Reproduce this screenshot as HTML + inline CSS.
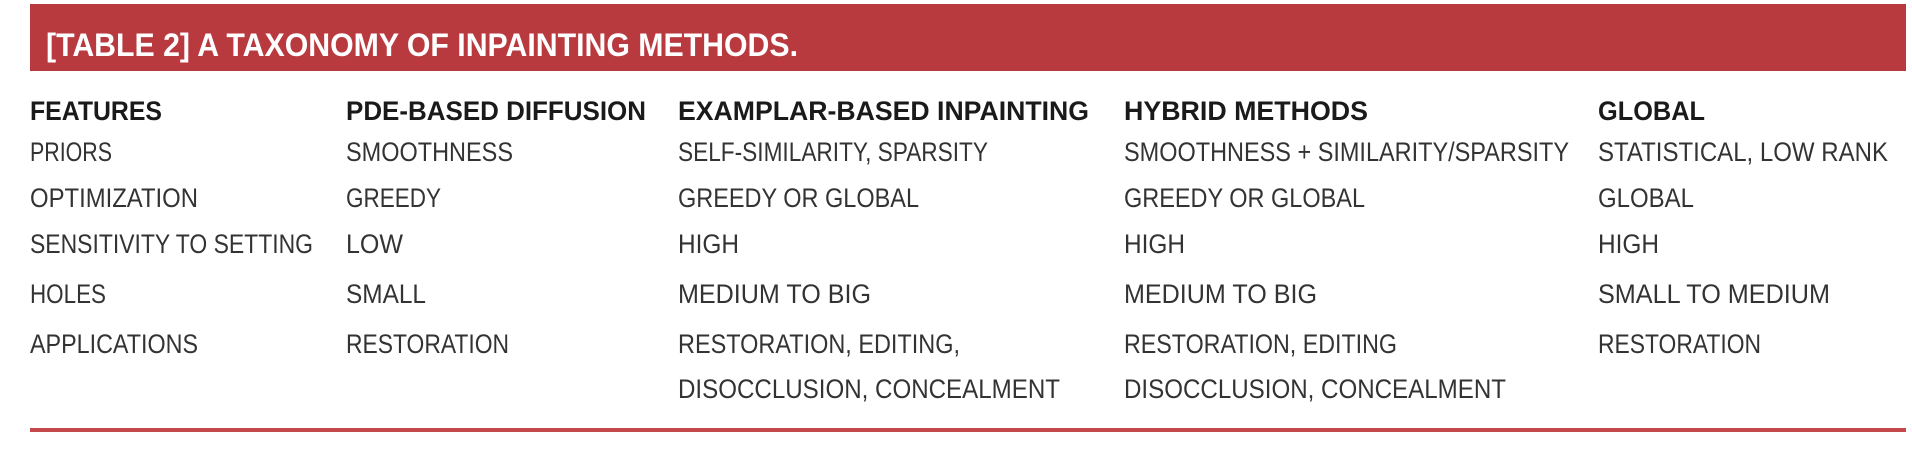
<!DOCTYPE html>
<html><head><meta charset="utf-8"><style>
html,body{margin:0;padding:0;background:#fff;width:1912px;height:450px;overflow:hidden}
svg text{font-family:"Liberation Sans Narrow","Liberation Sans",sans-serif}
</style></head><body>
<svg width="1912" height="450" viewBox="0 0 1912 450">
<rect x="30" y="4" width="1876" height="67" fill="#b83a3f"/>
<text x="46" y="56" fill="#fff" font-size="32" font-weight="bold" textLength="752" lengthAdjust="spacingAndGlyphs">[TABLE 2]  A TAXONOMY OF INPAINTING METHODS.</text>
<g fill="#1a1a1a" font-size="27" font-weight="bold">
<text x="30" y="120" textLength="132" lengthAdjust="spacingAndGlyphs">FEATURES</text>
<text x="346" y="120" textLength="300" lengthAdjust="spacingAndGlyphs">PDE-BASED DIFFUSION</text>
<text x="678" y="120" textLength="411" lengthAdjust="spacingAndGlyphs">EXAMPLAR-BASED INPAINTING</text>
<text x="1124" y="120" textLength="244" lengthAdjust="spacingAndGlyphs">HYBRID METHODS</text>
<text x="1598" y="120" textLength="107" lengthAdjust="spacingAndGlyphs">GLOBAL</text>
</g>
<g fill="#333" font-size="27">
<text x="30" y="161" textLength="82" lengthAdjust="spacingAndGlyphs">PRIORS</text>
<text x="346" y="161" textLength="167" lengthAdjust="spacingAndGlyphs">SMOOTHNESS</text>
<text x="678" y="161" textLength="310" lengthAdjust="spacingAndGlyphs">SELF-SIMILARITY, SPARSITY</text>
<text x="1124" y="161" textLength="445" lengthAdjust="spacingAndGlyphs">SMOOTHNESS + SIMILARITY/SPARSITY</text>
<text x="1598" y="161" textLength="290" lengthAdjust="spacingAndGlyphs">STATISTICAL, LOW RANK</text>

<text x="30" y="207" textLength="168" lengthAdjust="spacingAndGlyphs">OPTIMIZATION</text>
<text x="346" y="207" textLength="95" lengthAdjust="spacingAndGlyphs">GREEDY</text>
<text x="678" y="207" textLength="241" lengthAdjust="spacingAndGlyphs">GREEDY OR GLOBAL</text>
<text x="1124" y="207" textLength="241" lengthAdjust="spacingAndGlyphs">GREEDY OR GLOBAL</text>
<text x="1598" y="207" textLength="96" lengthAdjust="spacingAndGlyphs">GLOBAL</text>

<text x="30" y="253" textLength="283" lengthAdjust="spacingAndGlyphs">SENSITIVITY TO SETTING</text>
<text x="346" y="253" textLength="57" lengthAdjust="spacingAndGlyphs">LOW</text>
<text x="678" y="253" textLength="61" lengthAdjust="spacingAndGlyphs">HIGH</text>
<text x="1124" y="253" textLength="61" lengthAdjust="spacingAndGlyphs">HIGH</text>
<text x="1598" y="253" textLength="61" lengthAdjust="spacingAndGlyphs">HIGH</text>

<text x="30" y="303" textLength="76" lengthAdjust="spacingAndGlyphs">HOLES</text>
<text x="346" y="303" textLength="80" lengthAdjust="spacingAndGlyphs">SMALL</text>
<text x="678" y="303" textLength="193" lengthAdjust="spacingAndGlyphs">MEDIUM TO BIG</text>
<text x="1124" y="303" textLength="193" lengthAdjust="spacingAndGlyphs">MEDIUM TO BIG</text>
<text x="1598" y="303" textLength="232" lengthAdjust="spacingAndGlyphs">SMALL TO MEDIUM</text>

<text x="30" y="353" textLength="168" lengthAdjust="spacingAndGlyphs">APPLICATIONS</text>
<text x="346" y="353" textLength="163" lengthAdjust="spacingAndGlyphs">RESTORATION</text>
<text x="678" y="353" textLength="282" lengthAdjust="spacingAndGlyphs">RESTORATION, EDITING,</text>
<text x="1124" y="353" textLength="273" lengthAdjust="spacingAndGlyphs">RESTORATION, EDITING</text>
<text x="1598" y="353" textLength="163" lengthAdjust="spacingAndGlyphs">RESTORATION</text>
<text x="678" y="398" textLength="382" lengthAdjust="spacingAndGlyphs">DISOCCLUSION, CONCEALMENT</text>
<text x="1124" y="398" textLength="382" lengthAdjust="spacingAndGlyphs">DISOCCLUSION, CONCEALMENT</text>
</g>
<rect x="30" y="428" width="1876" height="4" fill="#c4484c"/>
</svg>
</body></html>
